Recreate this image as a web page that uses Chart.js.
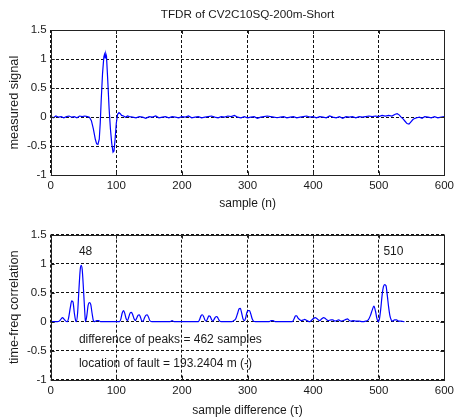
<!DOCTYPE html>
<html>
<head>
<meta charset="utf-8">
<script src="https://cdn.jsdelivr.net/npm/chart.js@4.4.0/dist/chart.umd.min.js"></script>
<style>
    html, body { margin: 0; padding: 0; background: #fff; }
    #wrap { position: relative; width: 458px; height: 419px; }
    canvas { position: absolute; left: 0; }
    #topChart { top: 0; }
    #botChart { top: 212px; }
</style>
</head>
<body>
<div id="wrap">
    <canvas id="topChart" width="458" height="212"></canvas>
    <canvas id="botChart" width="458" height="207"></canvas>
</div>
<script>
// --- measured signal (top plot) ---
const sampleN = [
    0, 4, 8, 12, 16, 20, 24, 28, 32, 36, 40, 44, 48, 52, 56, 59,
    62, 65, 68, 70, 72, 74, 75.5, 77, 79, 81, 82, 83, 84, 85, 87, 89, 91, 93, 95, 96.5, 98, 100,
    102, 104, 106, 108, 111, 114, 117,
    120, 125, 130, 135, 140, 145, 150, 155, 160, 165, 170, 175, 180, 185, 190, 195,
    200, 205, 210, 215, 220, 225, 230, 235, 240, 245, 250, 255, 260, 265, 270, 275,
    280, 285, 290, 295, 300, 305, 310, 315, 320, 325, 330, 335, 340, 345, 350, 355,
    360, 365, 370, 375, 380, 385, 390, 395, 400, 405, 410, 415, 420, 425, 430, 435,
    440, 445, 450, 455, 460, 465, 470, 475, 480, 485, 490, 495, 500, 505, 510, 515,
    520, 525, 528, 531, 534, 537, 540, 543, 546, 549, 552, 555, 558, 562, 566, 570,
    575, 580, 585, 590, 595, 600
];
const measured = [
    0.01, -0.01, 0.02, 0.00, 0.01, -0.01, 0.01, 0.02, 0.00, 0.01, -0.01, 0.02, 0.01, 0.02, 0.01, 0.00,
    -0.06, -0.20, -0.38, -0.46, -0.47, -0.38, -0.10, 0.30, 0.75, 1.04, 1.08, 1.02, 1.09, 1.05, 0.62, 0.15, -0.20, -0.45, -0.60, -0.58, -0.40, -0.10,
    0.05, 0.08, 0.06, 0.03, 0.02, 0.00, 0.02,
    0.01, 0.00, -0.01, 0.01, 0.00, -0.02, 0.01, 0.00, 0.02, -0.01, 0.00, 0.01, -0.01, 0.01, 0.00, -0.01,
    0.01, 0.00, 0.02, -0.01, 0.00, 0.01, -0.01, 0.00, 0.01, 0.02, 0.00, -0.01, 0.01, 0.00, 0.02, 0.01,
    0.03, 0.00, -0.01, 0.01, -0.01, 0.00, 0.01, -0.02, 0.00, 0.01, 0.02, 0.01, 0.00, -0.01, 0.00, 0.01,
    -0.01, 0.00, 0.01, -0.01, 0.00, 0.01, 0.02, 0.00, 0.01, -0.01, 0.01, 0.00, -0.01, 0.02, 0.00, -0.01,
    0.01, -0.02, 0.01, 0.00, 0.01, -0.01, 0.01, 0.00, 0.01, 0.02, 0.01, 0.02, 0.01, 0.03, 0.02, 0.03,
    0.02, 0.05, 0.06, 0.04, 0.00, -0.03, -0.07, -0.11, -0.12, -0.08, -0.04, -0.02, -0.01, 0.00, -0.02, 0.01,
    0.00, -0.01, 0.01, -0.01, 0.00, 0.01
];

// --- time-freq correlation (bottom plot) ---
const lagTau = [
    0, 10, 13, 16, 18, 20, 23, 25, 27, 30, 32, 34, 36, 38, 39, 41, 43, 45, 46.5, 48, 50, 52, 53,
    55, 57, 59, 61, 63, 65, 67, 70, 73, 76,
    105, 107, 109, 111, 113, 115, 117, 119, 121, 123, 125, 127, 129, 131, 133, 135, 137, 139,
    141, 143, 145, 147, 149, 151, 154,
    182, 185, 188,
    225, 227, 229, 231, 233, 235, 237, 239, 241, 243, 245, 247, 249, 251, 253, 255, 257, 260,
    276, 279, 282, 285, 287, 289, 291, 293, 295, 297, 299, 301, 303, 305, 307, 309, 312,
    333, 336, 339, 342,
    368, 371, 373, 375, 377, 380, 382, 385, 387, 389, 392, 395, 398, 400, 403, 405, 408, 410,
    413, 416, 418, 421, 423, 427, 430, 433, 436, 439, 442, 446, 450, 452, 455, 458, 461, 465,
    470, 475, 480, 484, 487, 490, 492.5, 495, 497, 499, 501, 503, 505, 507, 509, 511, 513, 515,
    517, 519, 521, 524, 527, 530, 534, 539
];
const corr = [
    0, 0, 0.01, 0.05, 0.07, 0.05, 0.01, 0, 0.05, 0.25, 0.36, 0.34, 0.15, 0.02, 0, 0.15, 0.55, 0.90, 0.97, 0.90, 0.55, 0.15, 0,
    0.10, 0.28, 0.33, 0.30, 0.15, 0.02, 0, 0.02, 0.02, 0,
    0, 0.05, 0.15, 0.19, 0.14, 0.05, 0.02, 0.08, 0.15, 0.16, 0.12, 0.05, 0.02, 0.06, 0.11, 0.12, 0.07, 0.01,
    0.01, 0.07, 0.11, 0.12, 0.08, 0.02, 0,
    0, 0.02, 0,
    0, 0.04, 0.10, 0.12, 0.09, 0.03, 0.01, 0.05, 0.10, 0.09, 0.04, 0.01, 0.04, 0.08, 0.09, 0.06, 0.02, 0,
    0, 0.02, 0.05, 0.15, 0.22, 0.23, 0.15, 0.05, 0.02, 0.06, 0.16, 0.19, 0.19, 0.13, 0.05, 0.01, 0,
    0, 0.02, 0.02, 0,
    0, 0.05, 0.10, 0.10, 0.06, 0.03, 0.02, 0.03, 0.04, 0.03, 0.01, 0, 0.03, 0.05, 0.07, 0.06, 0.03, 0.02,
    0.05, 0.07, 0.06, 0.03, 0.02, 0.03, 0.03, 0.01, 0.02, 0.03, 0.01, 0.02, 0.04, 0.05, 0.02, 0.01, 0.02, 0.01,
    0.01, 0, 0.01, 0.03, 0.10, 0.20, 0.27, 0.18, 0.06, 0, 0.05, 0.22, 0.45, 0.60, 0.64, 0.62, 0.45, 0.25,
    0.10, 0.03, 0.01, 0.03, 0.03, 0.01, 0.01, 0
];

// tick labels
const xTicks = [0, 100, 200, 300, 400, 500, 600];
const yTicks = [-1, -0.5, 0, 0.5, 1, 1.5];

// text notes on the bottom plot (data coords)
const noteText = ['48', '510', 'difference of peaks = 462 samples', 'location of fault = 193.2404 m (-)'];
const noteX = [43, 507, 43, 43];
const noteY = [1.2, 1.2, -0.31, -0.73];

const FONT = '"Liberation Sans", Arial, sans-serif';
const INK = '#1a1a1a';

// MATLAB style box, inward ticks, title and text notes
const framePlugin = {
    id: 'frame',
    afterDraw(chart, args, opts) {
        const ctx = chart.ctx;
        const a = chart.chartArea;
        const sx = chart.scales.x, sy = chart.scales.y;
        ctx.save();
        ctx.strokeStyle = '#222';
        ctx.lineWidth = 1;
        ctx.beginPath();
        xTicks.forEach(v => {
            const px = Math.round(sx.getPixelForValue(v)) + 0.5;
            ctx.moveTo(px, a.bottom); ctx.lineTo(px, a.bottom - 4);
            ctx.moveTo(px, a.top); ctx.lineTo(px, a.top + 4);
        });
        yTicks.forEach(v => {
            const py = Math.round(sy.getPixelForValue(v)) + 0.5;
            ctx.moveTo(a.left, py); ctx.lineTo(a.left + 4, py);
            ctx.moveTo(a.right, py); ctx.lineTo(a.right - 4, py);
        });
        ctx.stroke();
        ctx.strokeRect(Math.round(a.left) + 0.5, Math.round(a.top) + 0.5,
            Math.round(a.right) - Math.round(a.left), Math.round(a.bottom) - Math.round(a.top));

        ctx.fillStyle = INK;
        if (opts.title) {
            ctx.font = '11.7px ' + FONT;
            ctx.textAlign = 'center';
            ctx.textBaseline = 'middle';
            ctx.fillText(opts.title, (a.left + a.right) / 2, 15);
        }
        if (opts.notes) {
            ctx.font = '12px ' + FONT;
            ctx.textAlign = 'left';
            ctx.textBaseline = 'middle';
            noteText.forEach((t, i) => {
                ctx.fillText(t, sx.getPixelForValue(noteX[i]), sy.getPixelForValue(noteY[i]));
            });
        }
        ctx.restore();
    }
};

function makeChart(id, xs, ys, cfg) {
    const pts = xs.map((x, i) => ({ x: x, y: ys[i] }));
    return new Chart(document.getElementById(id), {
        type: 'line',
        data: {
            datasets: [{
                data: pts,
                borderColor: '#0000ff',
                borderWidth: 1.2,
                pointRadius: 0,
                fill: false,
                tension: 0,
                cubicInterpolationMode: cfg.smooth ? 'monotone' : 'default'
            }]
        },
        options: {
            responsive: false,
            animation: false,
            events: [],
            layout: { padding: { top: cfg.top, right: 9.4, left: 0, bottom: 0 } },
            plugins: {
                legend: { display: false },
                tooltip: { enabled: false },
                frame: { title: cfg.title, notes: cfg.notes }
            },
            scales: {
                x: {
                    type: 'linear',
                    min: 0, max: 600,
                    afterBuildTicks: s => { s.ticks = xTicks.map(v => ({ value: v })); },
                    afterFit: s => { s.height = cfg.xh; },
                    grid: { color: '#111', lineWidth: 1, drawTicks: false },
                    border: { display: false, dash: [3, 2] },
                    ticks: { color: INK, padding: 4, maxRotation: 0, autoSkip: false, font: { family: FONT, size: 11.5 },
                        callback: v => String(v) },
                    title: { display: true, text: cfg.xTitle, color: INK, padding: { top: 0, bottom: cfg.xtp }, font: { family: FONT, size: 12 } }
                },
                y: {
                    min: -1, max: 1.5,
                    afterBuildTicks: s => { s.ticks = yTicks.map(v => ({ value: v })); },
                    afterFit: s => { s.width = 50.7; },
                    grid: { color: '#111', lineWidth: 1, drawTicks: false },
                    border: { display: false, dash: [3, 2] },
                    ticks: { color: INK, padding: 4, font: { family: FONT, size: 11.5 },
                        callback: v => String(v) },
                    title: { display: true, text: cfg.yTitle, color: INK, padding: { top: 6.5, bottom: 0 }, font: { family: FONT, size: 12.8 } }
                }
            }
        },
        plugins: [framePlugin]
    });
}

makeChart('topChart', sampleN, measured, {
    top: 30, xh: 36.7, xtp: 0.8, smooth: false,
    title: 'TFDR of CV2C10SQ-200m-Short',
    notes: false,
    xTitle: 'sample (n)',
    yTitle: 'measured signal'
});

makeChart('botChart', lagTau, corr, {
    top: 22.7, xh: 39.3, xtp: 1.1, smooth: true,
    title: null,
    notes: true,
    xTitle: 'sample difference (\u03c4)',
    yTitle: 'time-freq correlation'
});
</script>
</body>
</html>
